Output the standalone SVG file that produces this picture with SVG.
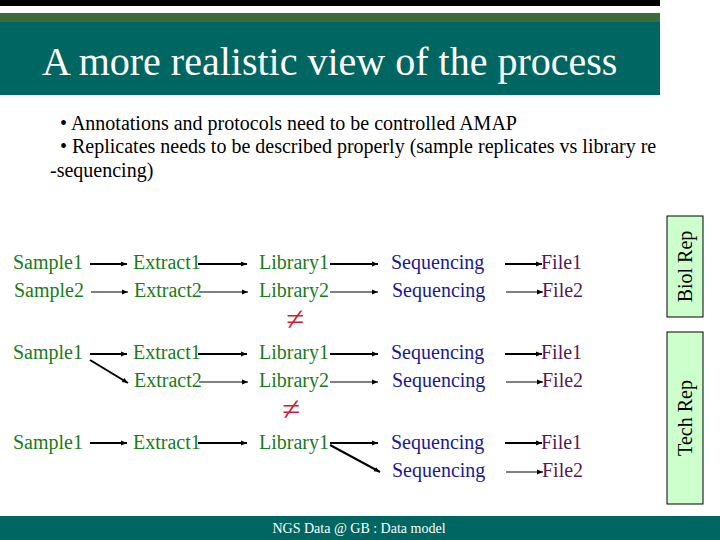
<svg xmlns="http://www.w3.org/2000/svg" width="720" height="540" viewBox="0 0 720 540" font-family="'Liberation Serif', 'Times New Roman', 'DejaVu Serif', serif">
<defs>
<marker id="ah" viewBox="0 0 10 10" refX="10" refY="5" markerWidth="6" markerHeight="6" markerUnits="userSpaceOnUse" orient="auto">
<path d="M0,1 L10,5 L0,9 Z" fill="#000"/>
</marker>
</defs>
<style>
text{font-family:'Liberation Serif','Times New Roman','DejaVu Serif',serif;}
.g{fill:#1b7a1b;font-size:20px;}
.b{fill:#1a1a90;font-size:20px;}
.p{fill:#551a4f;font-size:20px;}
.thick{stroke:#000;stroke-width:2;fill:none;marker-end:url(#ah);}
.thin{stroke:#000;stroke-width:1;fill:none;marker-end:url(#ah);}
.ne{fill:#cc2233;font-size:33px;}
.box{fill:#ccffcc;stroke:#000;stroke-width:1;}
</style>
<rect x="0" y="0" width="720" height="540" fill="#fff"/>
<g id="header">
<rect x="0" y="0" width="660" height="6" fill="#000"/>
<rect x="0" y="13" width="660" height="9" fill="#3e6b3a"/>
<rect x="0" y="22" width="660" height="73" fill="#006661"/>
<text x="42" y="75" font-size="40" fill="#fff">A more realistic view of the process</text>
</g>
<g id="bullets" font-size="20" fill="#000">
<text x="60" y="130">• Annotations and protocols need to be controlled AMAP</text>
<text x="60" y="153">• Replicates needs to be described properly (sample replicates vs library re</text>
<text x="50" y="177">-sequencing)</text>
</g>
<g id="footer">
<rect x="0" y="516" width="720" height="24" fill="#006661"/>
<text x="359" y="533" font-size="14" fill="#fff" text-anchor="middle">NGS Data @ GB : Data model</text>
</g>
<g id="connectors">
<line class="thick" x1="90" y1="264" x2="127" y2="264"/>
<line class="thick" x1="198" y1="264" x2="247" y2="264"/>
<line class="thick" x1="330" y1="264" x2="378" y2="264"/>
<line class="thick" x1="505" y1="264" x2="542" y2="264"/>
<line class="thin" x1="91" y1="292" x2="128" y2="292"/>
<line class="thin" x1="199" y1="292" x2="248" y2="292"/>
<line class="thin" x1="330" y1="292" x2="378" y2="292"/>
<line class="thin" x1="506" y1="292" x2="543" y2="292"/>
<line class="thick" x1="90" y1="354" x2="127" y2="354"/>
<line class="thick" x1="90" y1="360" x2="128" y2="383"/>
<line class="thick" x1="198" y1="354" x2="247" y2="354"/>
<line class="thick" x1="330" y1="354" x2="378" y2="354"/>
<line class="thick" x1="505" y1="354" x2="542" y2="354"/>
<line class="thin" x1="199" y1="382" x2="248" y2="382"/>
<line class="thin" x1="330" y1="382" x2="378" y2="382"/>
<line class="thin" x1="506" y1="382" x2="543" y2="382"/>
<line class="thick" x1="90" y1="443" x2="127" y2="443"/>
<line class="thick" x1="198" y1="443" x2="247" y2="443"/>
<line class="thick" x1="330" y1="443" x2="378" y2="443"/>
<line class="thick" x1="330" y1="445" x2="380" y2="472"/>
<line class="thick" x1="505" y1="443" x2="542" y2="443"/>
<line class="thin" x1="506" y1="472" x2="543" y2="472"/>
</g>
<g id="row1">
<text class="g" x="13" y="269">Sample1</text>
<text class="g" x="133" y="269">Extract1</text>
<text class="g" x="259" y="269">Library1</text>
<text class="b" x="391" y="269">Sequencing</text>
<text class="p" x="541" y="269">File1</text>
</g>
<g id="row2">
<text class="g" x="14" y="297">Sample2</text>
<text class="g" x="134" y="297">Extract2</text>
<text class="g" x="259" y="297">Library2</text>
<text class="b" x="392" y="297">Sequencing</text>
<text class="p" x="542" y="297">File2</text>
</g>
<g id="neq1"><text class="ne" x="295" y="330" text-anchor="middle">≠</text></g>
<g id="row3">
<text class="g" x="13" y="359">Sample1</text>
<text class="g" x="133" y="359">Extract1</text>
<text class="g" x="259" y="359">Library1</text>
<text class="b" x="391" y="359">Sequencing</text>
<text class="p" x="541" y="359">File1</text>
</g>
<g id="row4">
<text class="g" x="134" y="387">Extract2</text>
<text class="g" x="259" y="387">Library2</text>
<text class="b" x="392" y="387">Sequencing</text>
<text class="p" x="542" y="387">File2</text>
</g>
<g id="neq2"><text class="ne" x="291" y="420" text-anchor="middle">≠</text></g>
<g id="row5">
<text class="g" x="13" y="449">Sample1</text>
<text class="g" x="133" y="449">Extract1</text>
<text class="g" x="259" y="449">Library1</text>
<text class="b" x="391" y="449">Sequencing</text>
<text class="p" x="541" y="449">File1</text>
</g>
<g id="row6">
<text class="b" x="392" y="477">Sequencing</text>
<text class="p" x="542" y="477">File2</text>
</g>
<g id="biolrep">
<rect class="box" x="667" y="216" width="36" height="101"/>
<text transform="translate(692,266.5) rotate(-90)" font-size="20" fill="#000" text-anchor="middle">Biol Rep</text>
</g>
<g id="techrep">
<rect class="box" x="667" y="332" width="36" height="172"/>
<text transform="translate(692,418) rotate(-90)" font-size="20" fill="#000" text-anchor="middle">Tech Rep</text>
</g>
</svg>
